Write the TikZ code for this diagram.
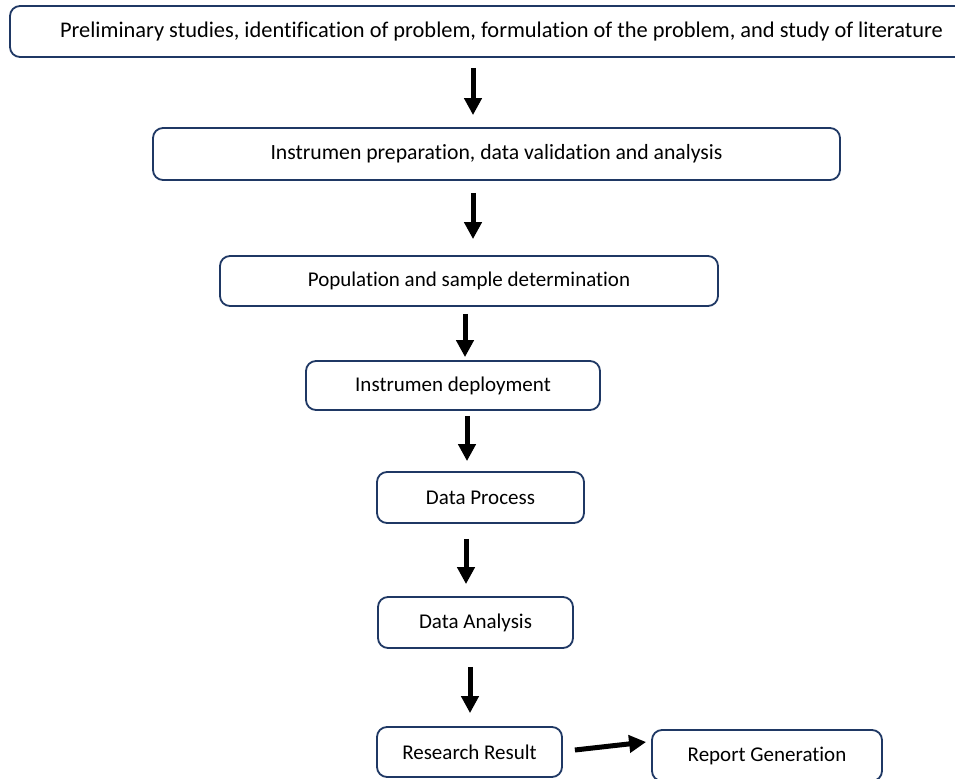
\documentclass[tikz,border=0pt]{standalone}
\usepackage{fontspec}
\setmainfont{Carlito}[Ligatures={NoCommon}]
\usetikzlibrary{arrows.meta}
\definecolor{boxline}{RGB}{31,56,100}
\tikzset{
  stepbox/.style={draw=boxline, line width=1.8bp, rounded corners=10bp, fill=white,
    inner sep=0pt, align=center, font=\fontsize{21bp}{25bp}\selectfont, text=black},
  arr/.style={line width=5bp, draw=black, -{Triangle[width=17bp,length=17bp]}}
}
\begin{document}
\begin{tikzpicture}[x=1bp,y=-1bp]
\useasboundingbox (0,0) rectangle (955,779);
\node[stepbox, minimum width=983bp, minimum height=51bp, font=\fontsize{22.4bp}{26bp}\selectfont] (b1) at (501.5,31.5) {Preliminary studies, identification of problem, formulation of the problem, and study of literature};
\node[stepbox, minimum width=687bp, minimum height=52bp, font=\fontsize{21.7bp}{26bp}\selectfont] (b2) at (496.5,154) {Instrumen preparation, data validation and analysis};
\node[stepbox, minimum width=498bp, minimum height=50bp] (b3) at (469,281) {Population and sample determination};
\node[stepbox, minimum width=294bp, minimum height=49bp] (b4) at (453,385.5) {Instrumen deployment};
\node[stepbox, minimum width=207bp, minimum height=51bp] (b5) at (480.5,497.5) {Data Process};
\node[stepbox, minimum width=195bp, minimum height=51bp] (b6) at (475.5,622.5) {Data Analysis};
\node[stepbox, minimum width=185bp, minimum height=50bp] (b7) at (469.5,752) {Research Result};
\node[stepbox, minimum width=230bp, minimum height=51bp] (b8) at (767,755.5) {Report Generation};
\coordinate (x1) at (473,0);
\coordinate (x2) at (473,0);
\coordinate (x3) at (465,0);
\coordinate (x4) at (467,0);
\coordinate (x5) at (466,0);
\coordinate (x6) at (470,0);
\draw[arr, shorten <=10bp, shorten >=12bp] (b1.south -| x1) -- (b2.north -| x1);
\draw[arr, shorten <=12bp, shorten >=16bp] (b2.south -| x2) -- (b3.north -| x2);
\draw[arr, shorten <=7bp, shorten >=3bp] (b3.south -| x3) -- (b4.north -| x3);
\draw[arr, shorten <=5bp, shorten >=10bp] (b4.south -| x4) -- (b5.north -| x4);
\draw[arr, shorten <=15bp, shorten >=12bp] (b5.south -| x5) -- (b6.north -| x5);
\draw[arr, shorten <=18bp, shorten >=13bp] (b6.south -| x6) -- (b7.north -| x6);
\draw[arr] ([xshift=12bp,yshift=2bp]b7.east) -- ([xshift=-5bp,yshift=13.5bp]b8.west);
\end{tikzpicture}
\end{document}
